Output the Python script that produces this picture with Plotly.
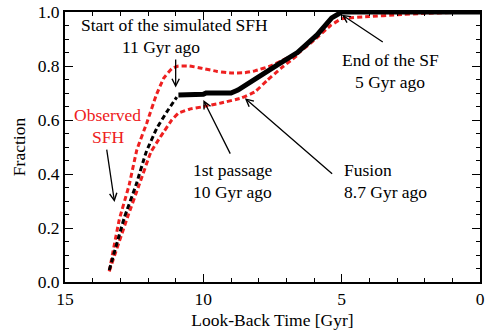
import plotly.graph_objects as go

# Data (Look-back time in Gyr, fraction)
sim_early_x = [13.4, 12.86, 12.43, 12.07, 11.68, 11.32, 10.96]
sim_early_y = [0.044, 0.237, 0.36, 0.48, 0.57, 0.63, 0.685]

sim_x = [10.9, 10.0, 9.9, 9.0, 8.75, 8.39, 7.79, 7.32, 6.6, 5.89, 5.36, 5.0, 0.0]
sim_y = [0.693, 0.695, 0.70, 0.70, 0.711, 0.736, 0.774, 0.804, 0.85, 0.915, 0.978, 1.0, 1.0]

obs_up_x = [13.4, 13.04, 12.68, 12.4, 12.04, 11.71, 11.43, 11.14, 10.9, 10.5, 10.07, 9.5, 9.0,
            8.5, 8.14, 7.57, 7.2, 6.86, 6.6, 6.0, 5.4, 5.0, 4.0, 3.0, 2.0, 1.0, 0.0]
obs_up_y = [0.04, 0.23, 0.36, 0.49, 0.59, 0.69, 0.755, 0.79, 0.80, 0.80, 0.792, 0.78, 0.774,
            0.775, 0.782, 0.80, 0.818, 0.835, 0.845, 0.895, 0.95, 0.975, 0.983, 0.99, 0.995, 0.998, 1.0]

obs_lo_x = [13.4, 12.75, 12.32, 11.9, 11.6, 11.43, 11.14, 10.9, 10.5, 10.07, 9.36, 8.64, 8.14,
            7.68, 7.21, 6.6]
obs_lo_y = [0.04, 0.237, 0.36, 0.48, 0.53, 0.556, 0.60, 0.625, 0.64, 0.648, 0.663, 0.681, 0.704,
            0.748, 0.79, 0.84]

x_ticks = [15, 10, 5, 0]
y_ticks = [0.0, 0.2, 0.4, 0.6, 0.8, 1.0]

FONT = "Liberation Serif"
RED = "#ee2020"

fig = go.Figure()
for xs, ys in [(obs_up_x, obs_up_y), (obs_lo_x, obs_lo_y)]:
    fig.add_trace(go.Scatter(x=xs, y=ys, mode="lines",
                             line=dict(color=RED, width=3, dash="5px,3px", shape="spline", smoothing=0.3),
                             hoverinfo="skip"))
fig.add_trace(go.Scatter(x=sim_early_x, y=sim_early_y, mode="lines",
                         line=dict(color="black", width=3, dash="5px,3px", shape="spline", smoothing=0.3),
                         hoverinfo="skip"))
fig.add_trace(go.Scatter(x=sim_x, y=sim_y, mode="lines",
                         line=dict(color="black", width=5), hoverinfo="skip"))

def arrow(tx, ty, hx, hy):
    fig.add_annotation(x=hx, y=hy, ax=tx, ay=ty, xref="x", yref="y", axref="x", ayref="y",
                       showarrow=True, arrowhead=5, arrowsize=1.1, arrowwidth=1.3,
                       arrowcolor="black", text="")

arrow(11.0, 0.83, 11.0, 0.72)
arrow(13.5, 0.496, 13.21, 0.296)
arrow(9.0, 0.47, 10.0, 0.674)
arrow(5.29, 0.396, 8.5, 0.681)
arrow(3.46, 0.885, 5.0, 0.99)

def label(x, y, text, color="black", xanchor="center"):
    fig.add_annotation(x=x, y=y, xref="x", yref="y", text=text, showarrow=False,
                       xanchor=xanchor, yanchor="middle",
                       font=dict(family=FONT, size=17.5, color=color))

label(11.05, 0.952, "Start of the simulated SFH")
label(11.54, 0.870, "11 Gyr ago")
label(13.48, 0.619, "Observed", color=RED)
label(13.43, 0.537, "SFH", color=RED)
label(10.43, 0.415, "1st passage", xanchor="left")
label(10.43, 0.333, "10 Gyr ago", xanchor="left")
label(5.0, 0.415, "Fusion", xanchor="left")
label(5.0, 0.333, "8.7 Gyr ago", xanchor="left")
label(3.25, 0.822, "End of the SF")
label(3.25, 0.740, "5 Gyr ago")

axis_common = dict(showline=True, linecolor="black", linewidth=2, mirror="allticks",
                   ticks="inside", tickcolor="black", tickwidth=1.3, ticklen=8,
                   showgrid=False, zeroline=False, ticklabeloverflow="allow",
                   tickfont=dict(family=FONT, size=17.5, color="black"))

fig.update_xaxes(range=[15, 0], tickvals=x_ticks, ticktext=[str(v) for v in x_ticks],
                 minor=dict(dtick=1, ticks="inside", ticklen=4, tickcolor="black", tickwidth=1.3),
                 title=dict(text="Look-Back Time [Gyr]", font=dict(family=FONT, size=17.5, color="black"),
                            standoff=6),
                 **axis_common)
fig.update_yaxes(range=[0, 1.0], tickvals=y_ticks, ticktext=[f"{v:.1f}" for v in y_ticks],
                 minor=dict(dtick=0.05, tick0=0, ticks="inside", ticklen=4, tickcolor="black", tickwidth=1.3),
                 title=dict(text="Fraction", font=dict(family=FONT, size=17.5, color="black"),
                            standoff=8),
                 **axis_common)

fig.update_layout(width=487, height=332, margin=dict(l=65, r=2, t=12, b=50),
                  plot_bgcolor="white", paper_bgcolor="white", showlegend=False)

fig.write_html("out.html")
